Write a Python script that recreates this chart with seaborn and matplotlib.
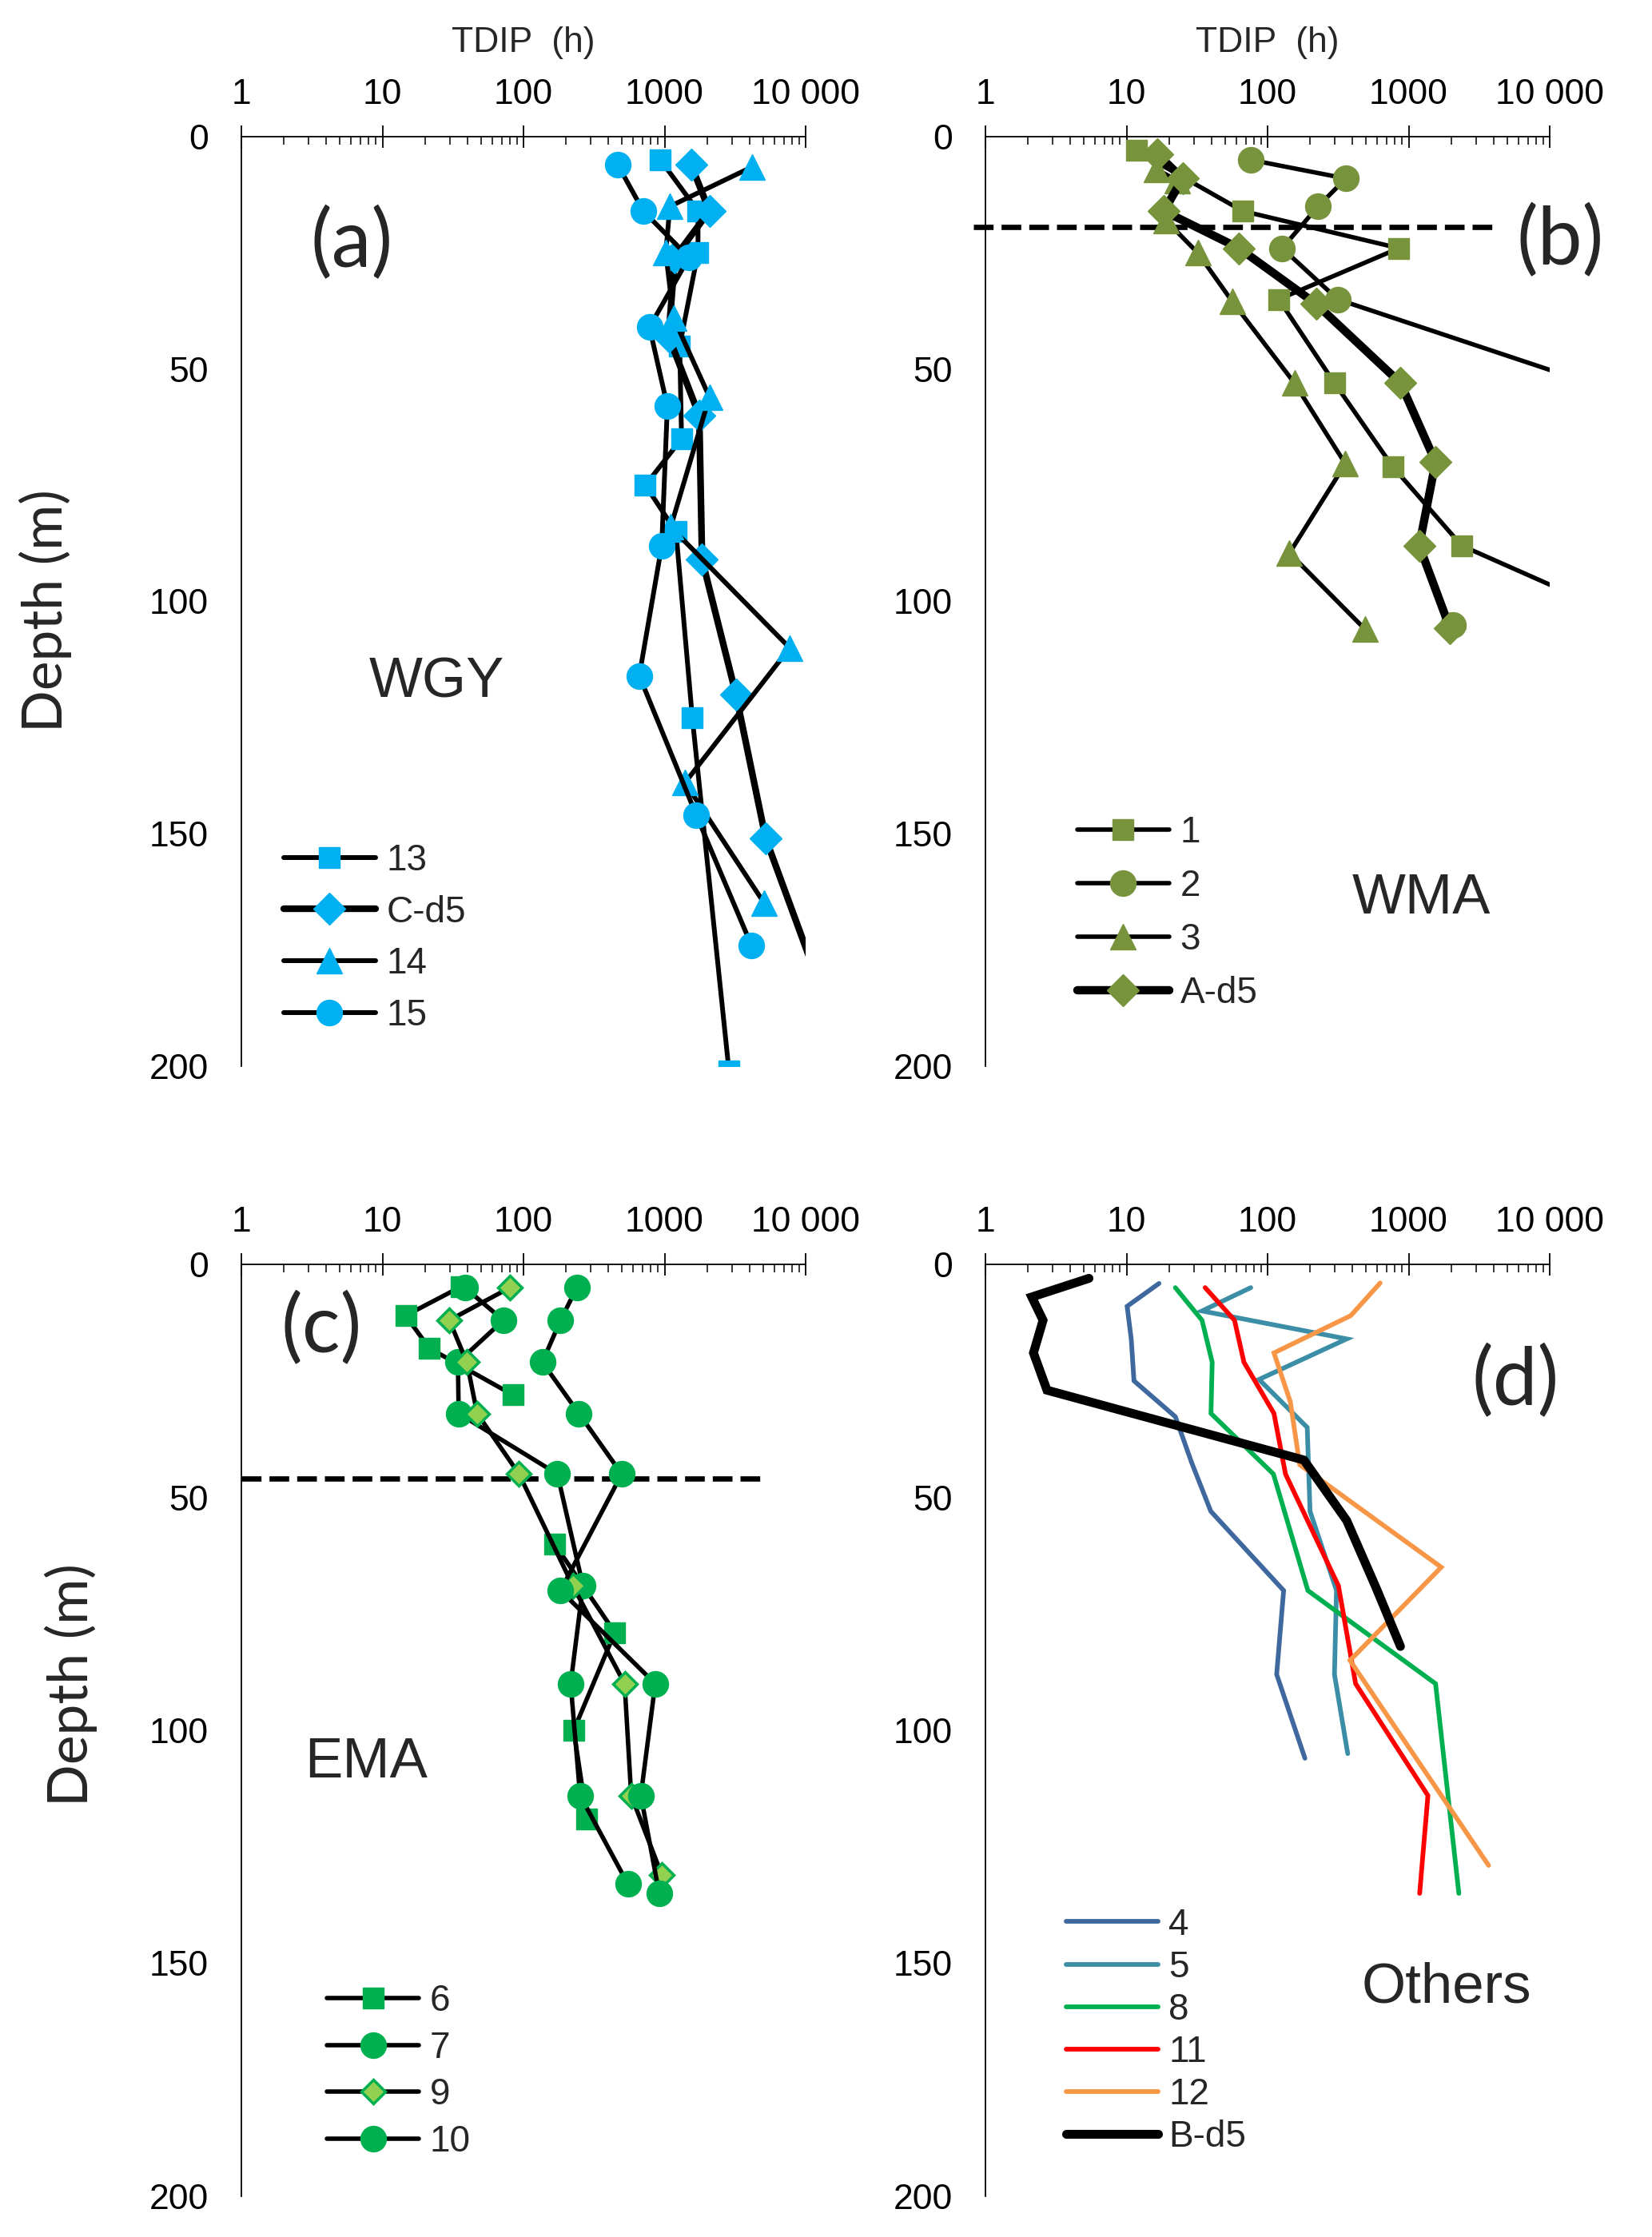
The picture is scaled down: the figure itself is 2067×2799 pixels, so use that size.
import numpy as np
import pandas as pd
import matplotlib
matplotlib.use("Agg")
import matplotlib.pyplot as plt
import seaborn as sns
from matplotlib.ticker import LogLocator, NullFormatter

sns.set_style("white")
plt.rcParams['font.family'] = ['Liberation Sans', 'DejaVu Sans']

nan = np.nan

# ---- panel (a) WGY
a13_t = [935, 1726, 1726, 1280, 1320, 731, 1205, 1573, 2862]
a13_d = [5, 16, 25, 45, 65, 75, 85, 125, 201]
acd5_t = [1541, 2080, 1181, 1069, 1762, 1845, 3206, 5212, 20400]
acd5_d = [6, 16, 26, 43, 60, 91, 120, 151, 200]
a14_t = [4180, 1091, 1020, 1158, 2080, 1105, 7710, 1396, 5105]
a14_d = [6.5, 15, 25, 39, 56, 84, 110, 139, 165]
a15_t = [465, 707, 1490, 782, 1047, 955, 662, 1680, 4130]
a15_d = [6, 16, 26, 41, 58, 88, 116, 146, 174]

# ---- panel (b) WMA
b1_t = [11.7, 66.6, 853, 120, 298, 771, 2376, 52000]
b1_d = [3, 16, 24, 35, 53, 71, 88, 106]
b2_t = [76, 359, 228, 127, 314, 19000, nan, 2050]
b2_d = [5, 9, 15, 24, 35, 53, nan, 105]
b3_t = [16.3, 23, 19, 32, 56, 155, 356, 143, 491]
b3_d = [7, 9.5, 18, 25, 35.4, 53, 70.4, 89.6, 106]
bad5_t = [16.6, 25, 18.4, 62.8, 221, 875, 1552, 1189, 1960]
bad5_d = [3.8, 9, 16, 24, 36, 53, 70, 88, 105.7]
b_limit_depth = 19.5

# ---- panel (c) EMA
c6_t = [36, 14.6, 21.5, 84, nan, 166, 444, 227, 282]
c6_d = [4.8, 11, 18, 28, nan, 60, 79, 100, 119]
c7_t = [38.4, 72, 34.3, 34.7, 174, 264, 216, 252, 550]
c7_d = [5, 12, 21, 32, 45, 69, 90, 114, 133]
c9_t = [80, 29.8, 39.7, 46.9, 93, 224, 521, 580, 955]
c9_d = [5, 12, 21, 32, 45, 69, 90, 114, 131]
c10_t = [239, 183, 136, 247, 497, 183, 859, 679, 916]
c10_d = [5, 12, 21, 32, 45, 70, 90, 114, 135]
c_limit_depth = 46

# ---- panel (d) Others
d4_t = [17.0, 10.1, 10.8, 11.3, 22.2, 29, 39.6, 130, 116, 184]
d4_d = [4.1, 9, 16, 25, 32.7, 42.6, 53, 70, 88, 106]
d5_t = [76, 34.3, 364, 87, 191, 200, 308, 298, 370]
d5_d = [5, 10, 16, 24.7, 35, 53, 70, 88, 105]
d8_t = [22.2, 34.3, 40.5, 39.7, 110, 193, 1552, 2270]
d8_d = [5, 12, 21, 32, 45, 70, 90, 135]
d11_t = [36.1, 58.3, 68, 111, 134, 318, 421, 1370, 1197]
d11_d = [5, 12, 21, 32, 45, 69, 90, 114, 135]
d12_t = [628, 389, 111, 145, 169, 1703, 384, 3690]
d12_d = [4, 11, 19, 29.5, 43, 65, 85, 129]
dbd5_t = [5.42, 2.13, 2.56, 2.19, 2.73, 181, 364, 580, 875]
dbd5_d = [3, 7, 12, 19, 27, 42, 55, 69, 82]

xticks = [1, 10, 100, 1000, 10000]
xticklabels = ['1', '10', '100', '1000', '10 000']
yticks = [0, 50, 100, 150, 200]

BLUE = '#00B0F0'
OLIVE = '#77933C'
GREEN = '#00B050'
LGREEN = '#92D050'


def draw_series(ax, t, d, label, **kws):
    """Draw one profile with seaborn; NaN entries split the line."""
    df = pd.DataFrame({'t': t, 'd': d})
    seg = df['t'].isna().cumsum()
    first = True
    for _, part in df.dropna().groupby(seg[df['t'].notna()]):
        sns.lineplot(data=part, x='t', y='d', ax=ax, sort=False, estimator=None,
                     label=label if first else None, legend=False, **kws)
        first = False


def setup_axis(ax, minor_in=False):
    ax.set_xscale('log')
    ax.set_xlim(1, 10000)
    ax.set_ylim(200, 0)
    ax.xaxis.tick_top()
    ax.xaxis.set_label_position('top')
    ax.spines['right'].set_visible(False)
    ax.spines['bottom'].set_visible(False)
    for s in ['top', 'left']:
        ax.spines[s].set_linewidth(1.3)
        ax.spines[s].set_color('black')
    ax.set_xticks(xticks)
    ax.set_xticklabels(xticklabels)
    ax.xaxis.set_minor_locator(LogLocator(base=10, subs=np.arange(2, 10)))
    ax.xaxis.set_minor_formatter(NullFormatter())
    ax.set_yticks(yticks)
    ax.set_yticks(np.arange(0, 201, 10), minor=True)
    ax.tick_params(axis='x', which='major', direction='inout', length=20, width=1.3,
                   pad=13, labelsize=32, colors='black')
    ax.tick_params(axis='x', which='minor', direction='in', length=7, width=1.3)
    ax.tick_params(axis='y', which='major', direction='inout', length=19, width=1.3,
                   pad=20, labelsize=32, colors='black')
    if minor_in:
        ax.tick_params(axis='y', which='minor', direction='in', length=7, width=1.3)
    else:
        ax.tick_params(axis='y', which='minor', direction='inout', length=15, width=1.3)
    ax.set_xlabel('')
    ax.set_ylabel('')


def legend(ax, x, y, spacing):
    h, l = ax.get_legend_handles_labels()
    ax.legend(h, l, loc='upper left', bbox_to_anchor=(x, y), frameon=False,
              fontsize=33, handlelength=2.5, handletextpad=0.3, borderpad=0,
              borderaxespad=0, labelspacing=spacing, numpoints=1)


fig = plt.figure(figsize=(20.67, 27.99), dpi=100)
W, H = 2067, 2799
def rect(x0, y0, x1, y1):
    return [x0 / W, 1 - y1 / H, (x1 - x0) / W, (y1 - y0) / H]

ax_a = fig.add_axes(rect(302, 171, 1008, 1334))
ax_b = fig.add_axes(rect(1233, 171, 1939, 1334))
ax_c = fig.add_axes(rect(302, 1582, 1008, 2748))
ax_d = fig.add_axes(rect(1233, 1582, 1939, 2748))

thin = 4.3
# (a)
draw_series(ax_a, a13_t, a13_d, '13', color='black', lw=thin, marker='s', ms=19,
            markerfacecolor=BLUE, markeredgecolor=BLUE, mew=1)
draw_series(ax_a, acd5_t, acd5_d, 'C-d5', color='black', lw=6, marker='D', ms=20,
            markerfacecolor=BLUE, markeredgecolor=BLUE, mew=1)
draw_series(ax_a, a14_t, a14_d, '14', color='black', lw=thin, marker='^', ms=23,
            markerfacecolor=BLUE, markeredgecolor=BLUE, mew=1)
draw_series(ax_a, a15_t, a15_d, '15', color='black', lw=thin, marker='o', ms=23,
            markerfacecolor=BLUE, markeredgecolor=BLUE, mew=1)
setup_axis(ax_a)
legend(ax_a, 0.075, 0.24, 0.45)

# (b)
ax_b.plot([0.82, 4000], [b_limit_depth, b_limit_depth], color='black', lw=4.8,
          dashes=(3.7, 1.5), clip_on=False, zorder=1)
draw_series(ax_b, b1_t, b1_d, '1', color='black', lw=4, marker='s', ms=19,
            markerfacecolor=OLIVE, markeredgecolor=OLIVE, mew=1)
draw_series(ax_b, b2_t, b2_d, '2', color='black', lw=4, marker='o', ms=23,
            markerfacecolor=OLIVE, markeredgecolor=OLIVE, mew=1)
draw_series(ax_b, b3_t, b3_d, '3', color='black', lw=4, marker='^', ms=23,
            markerfacecolor=OLIVE, markeredgecolor=OLIVE, mew=1)
draw_series(ax_b, bad5_t, bad5_d, 'A-d5', color='black', lw=7.5, marker='D', ms=20,
            markerfacecolor=OLIVE, markeredgecolor=OLIVE, mew=1)
setup_axis(ax_b)
legend(ax_b, 0.163, 0.27, 0.5)

# (c)
ax_c.plot([1, 4900], [c_limit_depth, c_limit_depth], color='black', lw=4.8,
          dashes=(3.7, 1.5), zorder=1, clip_on=False)
draw_series(ax_c, c6_t, c6_d, '6', color='black', lw=4, marker='s', ms=19,
            markerfacecolor=GREEN, markeredgecolor=GREEN, mew=1)
draw_series(ax_c, c7_t, c7_d, '7', color='black', lw=4, marker='o', ms=23,
            markerfacecolor=GREEN, markeredgecolor=GREEN, mew=1)
draw_series(ax_c, c9_t, c9_d, '9', color='black', lw=4, marker='D', ms=15,
            markerfacecolor=LGREEN, markeredgecolor=GREEN, mew=2.5)
draw_series(ax_c, c10_t, c10_d, '10', color='black', lw=4, marker='o', ms=23,
            markerfacecolor=GREEN, markeredgecolor=GREEN, mew=1)
setup_axis(ax_c)
legend(ax_c, 0.152, 0.228, 0.32)

# (d)
draw_series(ax_d, d4_t, d4_d, '4', color='#3F689E', lw=4.2)
draw_series(ax_d, d5_t, d5_d, '5', color='#3B8EA5', lw=4.2)
draw_series(ax_d, d8_t, d8_d, '8', color='#00B050', lw=4.2)
draw_series(ax_d, d11_t, d11_d, '11', color='#FF0000', lw=4.2)
draw_series(ax_d, d12_t, d12_d, '12', color='#F79646', lw=4.2)
draw_series(ax_d, dbd5_t, dbd5_d, 'B-d5', color='black', lw=8)
for ln in ax_d.get_lines():
    ln.set_solid_capstyle('round')
    ln.set_solid_joinstyle('miter')
setup_axis(ax_d, minor_in=True)
legend(ax_d, 0.143, 0.31, 0.2)

# axis titles and panel text
for ax in (ax_a, ax_b):
    ax.set_xlabel('TDIP  (h)', fontsize=32, labelpad=24)
for ax in (ax_a, ax_c):
    ax.set_ylabel('Depth (m)', fontsize=50, family=['Lato', 'DejaVu Sans'])
ax_a.yaxis.set_label_coords(-0.30, 0.49)
ax_c.yaxis.set_label_coords(-0.255, 0.549)

panel_font = ['Lato', 'DejaVu Sans']
ax_a.text(0.195, 0.885, '(a)', transform=ax_a.transAxes, fontsize=72,
          family=panel_font, ha='center', va='center')
ax_b.text(1.018, 0.888, '(b)', transform=ax_b.transAxes, fontsize=72,
          family=panel_font, ha='center', va='center', clip_on=False)
ax_c.text(0.142, 0.931, '(c)', transform=ax_c.transAxes, fontsize=72,
          family=panel_font, ha='center', va='center')
ax_d.text(0.939, 0.874, '(d)', transform=ax_d.transAxes, fontsize=72,
          family=panel_font, ha='center', va='center')

ax_a.text(0.346, 0.412, 'WGY', transform=ax_a.transAxes, fontsize=51,
          ha='center', va='center')
ax_b.text(0.773, 0.180, 'WMA', transform=ax_b.transAxes, fontsize=51,
          ha='center', va='center')
ax_c.text(0.221, 0.465, 'EMA', transform=ax_c.transAxes, fontsize=51,
          ha='center', va='center')
ax_d.text(0.817, 0.223, 'Others', transform=ax_d.transAxes, fontsize=51,
          ha='center', va='center')

fig.savefig('out.png', dpi=100, facecolor='white')
